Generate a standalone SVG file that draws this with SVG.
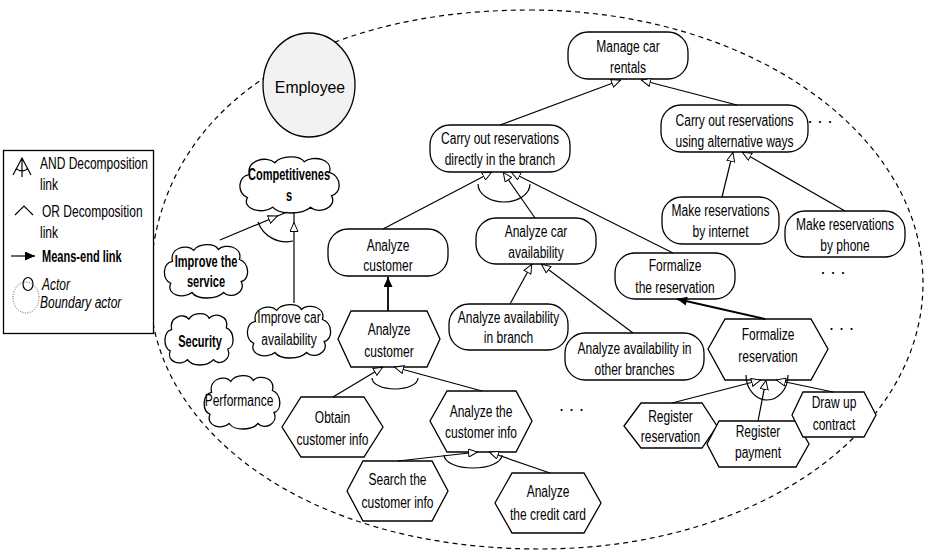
<svg xmlns="http://www.w3.org/2000/svg" xmlns:xlink="http://www.w3.org/1999/xlink" width="927" height="551" viewBox="0 0 927 551">
  <style>
    .ln { fill: none; stroke: #000; stroke-width: 1.2; }
    .nd { fill: #fff; stroke: #000; stroke-width: 1.3; }
    .cl { fill: #fff; stroke: #000; stroke-width: 1.3; vector-effect: non-scaling-stroke; }
    .t { font-family: "Liberation Sans", Arial, sans-serif; font-size: 16px; text-anchor: middle; fill: #000; }
    .l { text-anchor: start; }
    .b { font-weight: bold; }
    .i { font-style: italic; }
    .dots { font-family: "Liberation Sans", Arial, sans-serif; font-size: 18px; fill: #000; }
  </style>
  <defs>
    <!-- open triangle: decomposition link end -->
    <marker id="tri" viewBox="0 0 10 9" refX="10" refY="4.5" markerWidth="10" markerHeight="9" markerUnits="userSpaceOnUse" orient="auto">
      <path d="M0.5,0.5 L9.5,4.5 L0.5,8.5 Z" fill="#fff" stroke="#000" stroke-width="1"/>
    </marker>
    <!-- open triangle set back from the line end -->
    <marker id="trigap" viewBox="0 0 20 9" refX="20" refY="4.5" markerWidth="20" markerHeight="9" markerUnits="userSpaceOnUse" orient="auto">
      <path d="M0.5,0.5 L9.5,4.5 L0.5,8.5 Z" fill="#fff" stroke="#000" stroke-width="1"/>
    </marker>
    <!-- solid arrow: means-end link -->
    <marker id="arr" viewBox="0 0 10 9" refX="10" refY="4.5" markerWidth="11" markerHeight="9" markerUnits="userSpaceOnUse" orient="auto">
      <path d="M0,0 L10,4.5 L0,9 Z" fill="#000"/>
    </marker>
    <!-- softgoal outline -->
    <symbol id="cloud" viewBox="0 0 100 60" preserveAspectRatio="none" overflow="visible">
      <path class="cl" d="M12,20 C8,6 28,0 36,8 C42,0 60,0 64,7 C72,0 92,4 88,18 C100,22 100,40 90,42 C96,54 78,62 70,54 C62,62 40,62 34,54 C24,62 4,56 10,44 C0,40 0,22 12,20 Z"/>
    </symbol>
  </defs>

  <rect width="927" height="551" fill="#fff"/>

  <!-- actor boundary -->
  <path id="boundary" d="M530,10 C747,10 923,132 923,283 C923,429 760,549 540,549 C300,549 150,425 150,290 C150,110 310,10 530,10 Z" fill="none" stroke="#000" stroke-width="1.2" stroke-dasharray="5,4"/>

  <!-- actor -->
  <g id="employee">
    <ellipse cx="309" cy="85" rx="46" ry="52" fill="#f2f2f2" stroke="#000" stroke-width="1.3"/>
    <text class="t" transform="translate(310,93) scale(.93,1)" style="font-size:17px">Employee</text>
  </g>

  <!-- legend -->
  <g id="legend">
    <rect x="3.5" y="150.5" width="150" height="183" fill="#fff" stroke="#000" stroke-width="1.3"/>
    <path class="ln" d="M13,175 L22,158 L31,175 M22,158 L22,177 M16,168 A7,6 0 0 0 28,168"/>
    <text class="t l" transform="translate(40,169) scale(.75,1)">AND Decomposition</text>
    <text class="t l" transform="translate(40,190) scale(.75,1)">link</text>
    <path class="ln" d="M15,215 L24,206 L33,215"/>
    <text class="t l" transform="translate(42,217) scale(.75,1)">OR Decomposition</text>
    <text class="t l" transform="translate(40,238) scale(.75,1)">link</text>
    <path class="ln" d="M11,256 L35,256" stroke-width="1.8" marker-end="url(#arr)"/>
    <text class="t l b" transform="translate(42,262) scale(.69,1)">Means-end link</text>
    <ellipse cx="28" cy="284" rx="5" ry="6.5" fill="none" stroke="#000" stroke-width="1.2"/>
    <ellipse cx="26" cy="297.5" rx="13" ry="15.5" fill="none" stroke="#555" stroke-width="1" stroke-dasharray="1,1.5"/>
    <text class="t l i" transform="translate(42,290) scale(.75,1)">Actor</text>
    <text class="t l i" transform="translate(40,308) scale(.75,1)">Boundary actor</text>
  </g>

  <!-- softgoals -->
  <g id="sg-competitiveness">
    <use xlink:href="#cloud" x="237" y="155" width="105" height="58"/>
    <text class="t b" transform="translate(289,180) scale(.69,1)"><tspan x="0">Competitivenes</tspan><tspan x="0" y="21">s</tspan></text>
  </g>
  <g id="sg-improve-service">
    <use xlink:href="#cloud" x="162" y="243" width="88" height="55"/>
    <text class="t b" transform="translate(206,267) scale(.69,1)"><tspan x="0">Improve the</tspan><tspan x="0" y="20">service</tspan></text>
  </g>
  <g id="sg-security">
    <use xlink:href="#cloud" x="163" y="312" width="72" height="53"/>
    <text class="t b" transform="translate(200,347) scale(.69,1)">Security</text>
  </g>
  <g id="sg-improve-avail">
    <use xlink:href="#cloud" x="245" y="303" width="88" height="55"/>
    <text class="t" transform="translate(289,323) scale(.75,1)"><tspan x="0">Improve car</tspan><tspan x="0" y="22">availability</tspan></text>
  </g>
  <g id="sg-performance">
    <use xlink:href="#cloud" x="202" y="374" width="80" height="55"/>
    <text class="t" transform="translate(239,406) scale(.75,1)">Performance</text>
  </g>

  <!-- goals -->
  <g id="g-manage">
    <rect class="nd" x="568" y="32" width="120" height="47" rx="20"/>
    <text class="t" transform="translate(628,52) scale(.75,1)"><tspan x="0">Manage car</tspan><tspan x="0" y="21">rentals</tspan></text>
  </g>
  <g id="g-direct">
    <rect class="nd" x="430" y="125" width="140" height="47" rx="20"/>
    <text class="t" transform="translate(500,144) scale(.75,1)"><tspan x="0">Carry out reservations</tspan><tspan x="0" y="21">directly in the branch</tspan></text>
  </g>
  <g id="g-alternative">
    <rect class="nd" x="661" y="105" width="147" height="47" rx="20"/>
    <text class="t" transform="translate(734.5,126) scale(.75,1)"><tspan x="0">Carry out reservations</tspan><tspan x="0" y="21">using alternative ways</tspan></text>
  </g>
  <g id="g-internet">
    <rect class="nd" x="662" y="197" width="117" height="47" rx="20"/>
    <text class="t" transform="translate(720.5,216) scale(.75,1)"><tspan x="0">Make reservations</tspan><tspan x="0" y="21">by internet</tspan></text>
  </g>
  <g id="g-phone">
    <rect class="nd" x="785" y="211" width="120" height="46" rx="20"/>
    <text class="t" transform="translate(845,230) scale(.75,1)"><tspan x="0">Make reservations</tspan><tspan x="0" y="21">by phone</tspan></text>
  </g>
  <g id="g-formalize">
    <rect class="nd" x="615" y="253" width="120" height="46" rx="20"/>
    <text class="t" transform="translate(675,271) scale(.75,1)"><tspan x="0">Formalize</tspan><tspan x="0" y="22">the reservation</tspan></text>
  </g>
  <g id="g-customer">
    <rect class="nd" x="328" y="229" width="120" height="47" rx="20"/>
    <text class="t" transform="translate(388,251) scale(.75,1)"><tspan x="0">Analyze</tspan><tspan x="0" y="20">customer</tspan></text>
  </g>
  <g id="g-car-availability">
    <rect class="nd" x="476" y="218" width="120" height="46" rx="20"/>
    <text class="t" transform="translate(536,237) scale(.75,1)"><tspan x="0">Analyze car</tspan><tspan x="0" y="21">availability</tspan></text>
  </g>
  <g id="g-branch">
    <rect class="nd" x="449" y="304" width="119" height="46" rx="20"/>
    <text class="t" transform="translate(508.5,323) scale(.75,1)"><tspan x="0">Analyze availability</tspan><tspan x="0" y="20">in branch</tspan></text>
  </g>
  <g id="g-other-branches">
    <rect class="nd" x="565" y="333" width="139" height="47" rx="20"/>
    <text class="t" transform="translate(634.5,354) scale(.75,1)"><tspan x="0">Analyze availability in</tspan><tspan x="0" y="21">other branches</tspan></text>
  </g>

  <!-- tasks -->
  <g id="t-customer">
    <polygon class="nd" points="338,339 351,311 427,311 440,339 427,367 351,367"/>
    <text class="t" transform="translate(389,335) scale(.75,1)"><tspan x="0">Analyze</tspan><tspan x="0" y="22">customer</tspan></text>
  </g>
  <g id="t-obtain">
    <polygon class="nd" points="282,427 301,397 364,397 383,427 364,457 301,457"/>
    <text class="t" transform="translate(332.5,423) scale(.75,1)"><tspan x="0">Obtain</tspan><tspan x="0" y="22">customer info</tspan></text>
  </g>
  <g id="t-analyze-info">
    <polygon class="nd" points="430,421 447,391 516,391 532,421 516,452 447,452"/>
    <text class="t" transform="translate(481,417) scale(.75,1)"><tspan x="0">Analyze the</tspan><tspan x="0" y="21">customer info</tspan></text>
  </g>
  <g id="t-search">
    <polygon class="nd" points="347,491 363,461 432,461 448,491 432,521 363,521"/>
    <text class="t" transform="translate(397.5,485) scale(.75,1)"><tspan x="0">Search the</tspan><tspan x="0" y="23">customer info</tspan></text>
  </g>
  <g id="t-credit">
    <polygon class="nd" points="495,503 512,473 584,473 601,503 584,533 512,533"/>
    <text class="t" transform="translate(548,497) scale(.75,1)"><tspan x="0">Analyze</tspan><tspan x="0" y="23">the credit card</tspan></text>
  </g>
  <g id="t-formalize">
    <polygon class="nd" points="708,349 725,319 811,319 828,349 811,380 725,380"/>
    <text class="t" transform="translate(768,340) scale(.75,1)"><tspan x="0">Formalize</tspan><tspan x="0" y="22">reservation</tspan></text>
  </g>
  <g id="t-register-reservation">
    <polygon class="nd" points="624,426 641,403 702,403 717,426 702,448 641,448"/>
    <text class="t" transform="translate(670.5,422) scale(.75,1)"><tspan x="0">Register</tspan><tspan x="0" y="20">reservation</tspan></text>
  </g>
  <g id="t-register-payment">
    <polygon class="nd" points="707,444 719,421 796,421 809,444 796,467 719,467"/>
    <text class="t" transform="translate(758,437) scale(.75,1)"><tspan x="0">Register</tspan><tspan x="0" y="21">payment</tspan></text>
  </g>
  <g id="t-contract">
    <polygon class="nd" points="792,415 803,392 864,392 876,415 864,437 803,437"/>
    <text class="t" transform="translate(834,408) scale(.75,1)"><tspan x="0">Draw up</tspan><tspan x="0" y="22">contract</tspan></text>
  </g>

  <!-- continuation marks -->
  <g id="more">
    <text class="dots" x="807.5" y="123">. . .</text>
    <text class="dots" x="820.5" y="274">. . .</text>
    <text class="dots" x="559" y="411">. . .</text>
    <text class="dots" x="829" y="330">. . .</text>
  </g>

  <!-- links -->
  <g id="links" class="ln">
    <path d="M500,125 L621,80" marker-end="url(#tri)"/>
    <path d="M737,105 L641,80" marker-end="url(#tri)"/>
    <path d="M722,197 L733,152" marker-end="url(#tri)"/>
    <path d="M845,211 L742,152" marker-end="url(#tri)"/>

    <path d="M383,229 L492,172" marker-end="url(#tri)"/>
    <path d="M535,218 L503,172" marker-end="url(#tri)"/>
    <path d="M673,253 L511,172" marker-end="url(#tri)"/>
    <path d="M478,184 A26,18 0 0 0 530,184"/>

    <path d="M388,311 L388,277" stroke-width="1.8" marker-end="url(#arr)"/>
    <path d="M333,397 L383,367" marker-end="url(#tri)"/>
    <path d="M482,391 L394,367" marker-end="url(#tri)"/>
    <path d="M372,378 A23,11 0 0 0 418,378"/>

    <path d="M398,461 L478,452" marker-end="url(#tri)"/>
    <path d="M550,473 L489,452" marker-end="url(#tri)"/>
    <path d="M444,455 A29,13 0 0 0 502,455"/>

    <path d="M220,240 L287,212" marker-end="url(#trigap)"/>
    <path d="M294,303 L294,212" marker-end="url(#trigap)"/>
    <path d="M258,222 A30,30 0 0 0 293,241"/>

    <path d="M510,304 L532,264" marker-end="url(#tri)"/>
    <path d="M633,333 L541,264" marker-end="url(#tri)"/>

    <path d="M765,319 L677,299" stroke-width="1.8" marker-end="url(#arr)"/>
    <path d="M672,403 L761,380" marker-end="url(#tri)"/>
    <path d="M758,421 L766,380" marker-end="url(#tri)"/>
    <path d="M833,392 L776,380" marker-end="url(#tri)"/>
    <path d="M746,375 A21,25 0 0 0 788,375"/>
  </g>
</svg>
